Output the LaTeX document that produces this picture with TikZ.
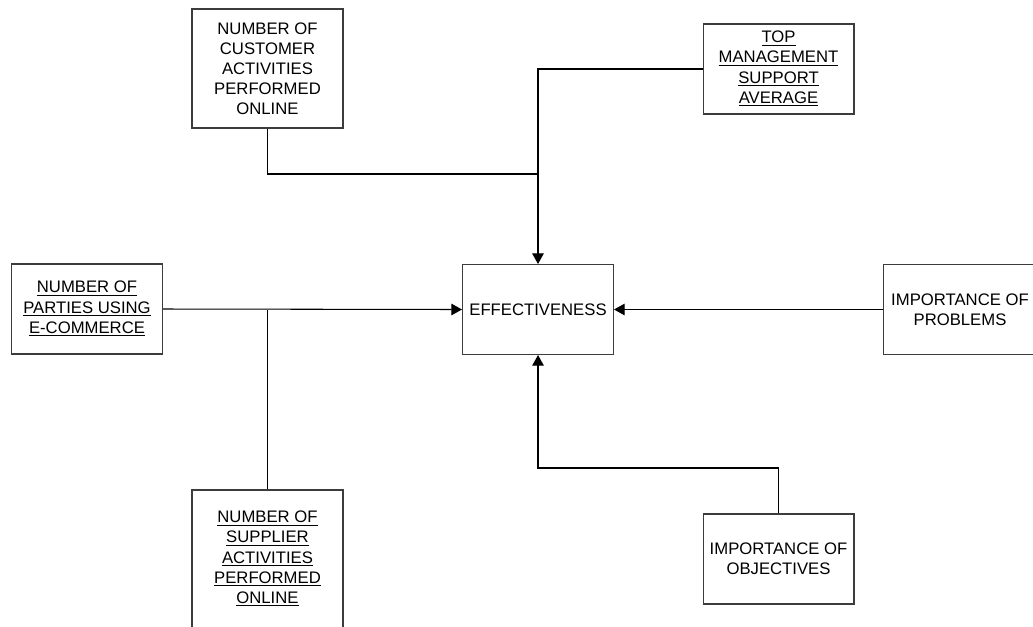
\documentclass[tikz,border=0pt]{standalone}
\usepackage{fontspec}
\setmainfont{Liberation Sans}
\usetikzlibrary{arrows.meta,positioning}
\definecolor{BoxGrey}{RGB}{60,60,60}
\newcommand{\ul}[1]{\underline{#1}}

\begin{document}
\begin{tikzpicture}[x=0.02cm,y=-0.02cm,
  factor/.style={draw=BoxGrey,line width=0.6pt,align=center,minimum width=3.02cm,minimum height=1.8cm,inner sep=1pt,font=\fontsize{9.5}{11.4}\selectfont},
  link/.style={line width=0.6pt},
  arr/.style={link,-{Triangle[length=6pt,width=6.5pt]}}]
\clip (0,0) rectangle (1033,626);
\node[factor,minimum height=2.38cm] (cust) at (267.5,68.5) {NUMBER OF\\CUSTOMER\\ACTIVITIES\\PERFORMED\\ONLINE};
\node[factor] (mgmt) at (778.5,69) {\ul{TOP}\\\ul{MANAGEMENT}\\\ul{SUPPORT}\\\ul{AVERAGE}};
\node[factor] (parties) at (87,309) {\ul{NUMBER OF}\\\ul{PARTIES USING}\\\ul{E-COMMERCE}};
\node[factor] (eff) at (538,309.5) {EFFECTIVENESS};
\node[factor,minimum width=3.08cm] (probs) at (960,309.5) {IMPORTANCE OF\\PROBLEMS};
\node[factor,minimum height=2.76cm] (supp) at (267.5,559) {\ul{NUMBER OF}\\\ul{SUPPLIER}\\\ul{ACTIVITIES}\\\ul{PERFORMED}\\\ul{ONLINE}};
\node[factor] (obj) at (778.5,559) {IMPORTANCE OF\\OBJECTIVES};
% junctions
\coordinate (jtop) at (538,174);
\coordinate (jbot) at (538,468);
\draw[link] (cust.south) |- (jtop);
\draw[arr] (mgmt.west) -| (eff.north);
\draw[arr] (parties.east) -- (eff.west);
\draw[link] (supp.north) -- (supp.north |- eff.west);
\draw[arr] (probs.west) -- (eff.east);
\draw[arr] (obj.north) |- (jbot) -- (eff.south);
\end{tikzpicture}
\end{document}
